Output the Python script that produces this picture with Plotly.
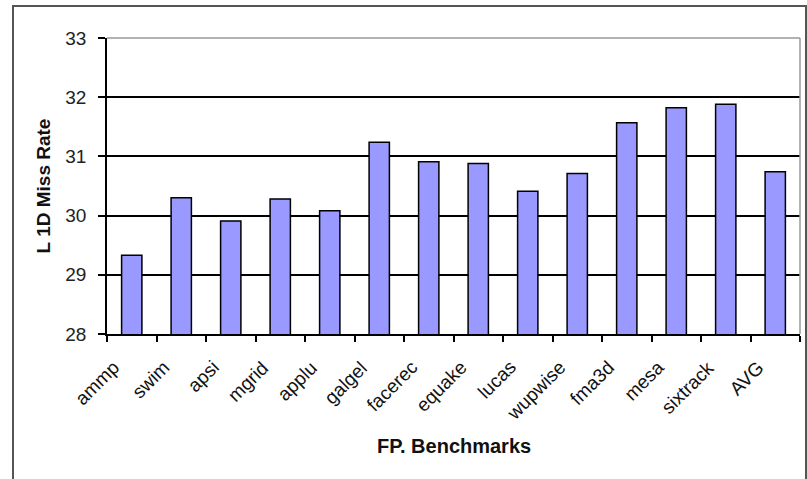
import plotly.graph_objects as go

benchmarks = ["ammp", "swim", "apsi", "mgrid", "applu", "galgel", "facerec",
              "equake", "lucas", "wupwise", "fma3d", "mesa", "sixtrack", "AVG"]
miss_rate = [29.33, 30.30, 29.91, 30.28, 30.08, 31.24, 30.91,
             30.88, 30.41, 30.71, 31.57, 31.82, 31.88, 30.74]
y_ticks = [28, 29, 30, 31, 32, 33]

W, H = 807, 479
L, R, T, B = 107, 7, 38, 145
pw, ph = W - L - R, H - T - B


def px(x):
    return (x - L) / pw


def py(y):
    return (H - B - y) / ph


fig = go.Figure(go.Bar(
    x=benchmarks,
    y=miss_rate,
    width=0.41,
    marker=dict(color="#9999FF", line=dict(color="#000000", width=1.5)),
))

# slanted category labels under the axis
label_annotations = [
    dict(x=i, y=0, xref="x", yref="paper", text=name, showarrow=False,
         textangle=-45, xanchor="right", yanchor="top", xshift=-5, yshift=-20,
         font=dict(size=19, color="#111111"))
    for i, name in enumerate(benchmarks)
]

fig.update_layout(
    width=W, height=H,
    margin=dict(l=L, r=R, t=T, b=B),
    paper_bgcolor="white",
    plot_bgcolor="white",
    showlegend=False,
    font=dict(family="Arial, Liberation Sans, sans-serif", color="#111111"),
    annotations=label_annotations + [
        dict(x=0.5, y=py(446), xref="paper", yref="paper",
             text="<b>FP. Benchmarks</b>", showarrow=False,
             xanchor="center", yanchor="middle",
             font=dict(size=20, color="#111111")),
    ],
    shapes=[
        # outer chart frame
        dict(type="rect", xref="paper", yref="paper",
             x0=px(13), x1=px(806), y0=py(490), y1=py(6),
             line=dict(color="#555555", width=2), layer="below"),
        # grey top and right edges of the plot area
        dict(type="line", xref="paper", yref="paper",
             x0=0, x1=1, y0=1, y1=1,
             line=dict(color="#999999", width=1.5), layer="above"),
        dict(type="line", xref="paper", yref="paper",
             x0=1, x1=1, y0=0, y1=1,
             line=dict(color="#999999", width=1.5), layer="above"),
    ],
)

fig.update_xaxes(
    type="category",
    categoryarray=benchmarks,
    range=[-0.5, len(benchmarks) - 0.5],
    tickson="boundaries",
    ticks="outside", ticklen=6, tickwidth=1.5, tickcolor="#000000",
    showline=True, linecolor="#000000", linewidth=1.5,
    showgrid=False,
    showticklabels=False,
)

fig.update_yaxes(
    range=[28, 33],
    tickvals=y_ticks,
    ticks="outside", ticklen=7, tickwidth=1.5, tickcolor="#000000",
    showline=True, linecolor="#000000", linewidth=1.5,
    showgrid=True, gridcolor="#000000", gridwidth=1.5,
    zeroline=False,
    tickfont=dict(size=19, color="#222222"),
    ticklabelstandoff=8,
    title=dict(text="<b>L 1D Miss Rate</b>", font=dict(size=19, color="#111111"),
               standoff=10),
)

fig.write_html("out.html")
